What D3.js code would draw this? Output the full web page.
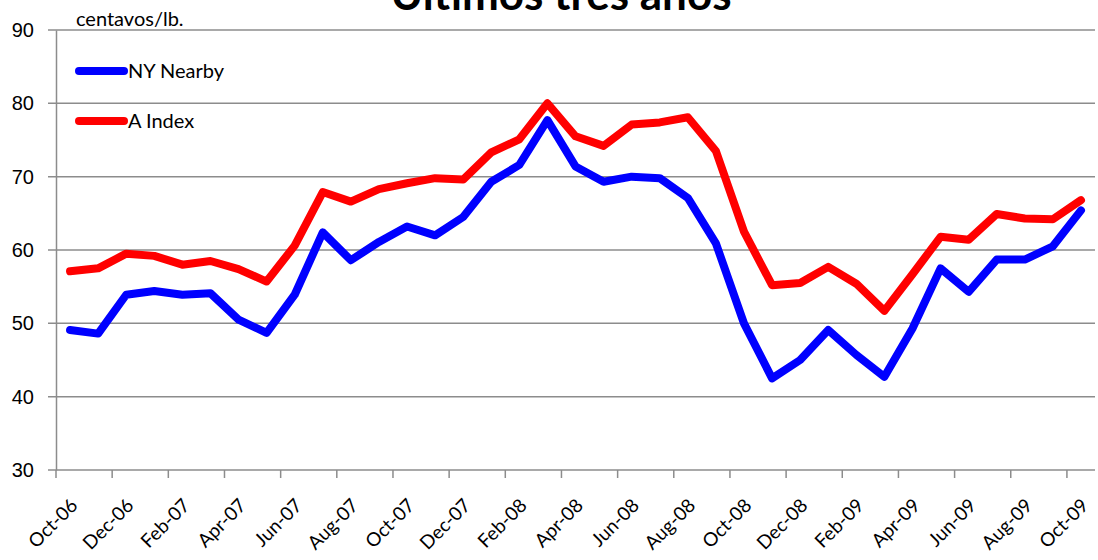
<!DOCTYPE html>
<html>
<head>
<meta charset="utf-8">
<script src="https://cdn.jsdelivr.net/npm/d3@7"></script>
<style>
  body { margin: 0; background: #fff; }
  svg { font-family: Lato, "Open Sans", sans-serif; }
  .grid line { stroke: #8c8c8c; stroke-width: 1.5; }
  .tick text { fill: #000; }
</style>
</head>
<body>
<svg width="1098" height="560"></svg>
<script>
const months = ["Oct-06","Nov-06","Dec-06","Jan-07","Feb-07","Mar-07","Apr-07","May-07","Jun-07","Jul-07","Aug-07","Sep-07",
  "Oct-07","Nov-07","Dec-07","Jan-08","Feb-08","Mar-08","Apr-08","May-08","Jun-08","Jul-08","Aug-08","Sep-08",
  "Oct-08","Nov-08","Dec-08","Jan-09","Feb-09","Mar-09","Apr-09","May-09","Jun-09","Jul-09","Aug-09","Sep-09","Oct-09"]

const nyNearby = [49.1, 48.6, 53.9, 54.4, 53.9, 54.1, 50.5, 48.7, 53.9, 62.4, 58.6, 61.1,
  63.2, 62.0, 64.5, 69.3, 71.6, 77.7, 71.4, 69.3, 70.0, 69.8, 67.1, 60.9,
  50.0, 42.5, 45.0, 49.1, 45.7, 42.7, 49.3, 57.5, 54.3, 58.7, 58.7, 60.5, 65.4]

const aIndex = [57.1, 57.5, 59.5, 59.2, 58.0, 58.5, 57.4, 55.7, 60.6, 67.9, 66.6, 68.3,
  69.1, 69.8, 69.6, 73.3, 75.1, 80.0, 75.5, 74.2, 77.1, 77.4, 78.1, 73.5,
  62.5, 55.2, 55.5, 57.7, 55.4, 51.7, 56.7, 61.8, 61.4, 64.9, 64.3, 64.2, 66.8]

const yTicks = [30, 40, 50, 60, 70, 80, 90]

const series = [
  { name: "NY Nearby", color: "#0000ff", values: nyNearby },
  { name: "A Index", color: "#ff0000", values: aIndex }
]

const svg = d3.select("svg")

const x = d3.scaleBand()
  .domain(months)
  .range([56, 1095])

const y = d3.scaleLinear()
  .domain([30, 90])
  .range([470, 30])

// horizontal gridlines
svg.append("g")
  .attr("class", "grid")
  .selectAll("line")
  .data(yTicks)
  .enter()
  .append("line")
  .attr("x1", 48)
  .attr("x2", 1095)
  .attr("y1", d => y(d))
  .attr("y2", d => y(d))

// y axis
const yAxis = svg.append("g")
  .attr("transform", "translate(56,0)")
  .call(d3.axisLeft(y).tickValues(yTicks).tickSize(0).tickPadding(22))
yAxis.select(".domain").attr("stroke", "#8c8c8c").attr("stroke-width", 1.5)
yAxis.selectAll("text").attr("font-size", 20)

// x axis: ticks every two months at band edges
const labelled = months.filter((m, i) => i % 2 === 0)
svg.append("g")
  .attr("class", "grid")
  .selectAll("line")
  .data(labelled)
  .enter()
  .append("line")
  .attr("x1", d => x(d))
  .attr("x2", d => x(d))
  .attr("y1", y(30))
  .attr("y2", y(30) + 8)

svg.append("g")
  .selectAll("text")
  .data(labelled)
  .enter()
  .append("text")
  .attr("transform", d => `translate(${x(d) + x.bandwidth() / 2 + 4}, ${y(30) + 32}) rotate(-45)`)
  .attr("text-anchor", "end")
  .attr("dy", "0.35em")
  .attr("font-size", 19)
  .text(d => d)

const line = d3.line()
  .x((d, i) => x(months[i]) + x.bandwidth() / 2)
  .y(d => y(d))

svg.append("g")
  .selectAll("path")
  .data(series)
  .enter()
  .append("path")
  .attr("d", d => line(d.values))
  .attr("fill", "none")
  .attr("stroke", d => d.color)
  .attr("stroke-width", 8)
  .attr("stroke-linejoin", "round")
  .attr("stroke-linecap", "round")

// legend
const legend = svg.append("g")
  .selectAll("g")
  .data(series)
  .enter()
  .append("g")
  .attr("transform", (d, i) => `translate(0, ${71 + i * 50})`)

legend.append("line")
  .attr("x1", 79)
  .attr("x2", 124)
  .attr("stroke", d => d.color)
  .attr("stroke-width", 8)
  .attr("stroke-linecap", "round")

legend.append("text")
  .attr("x", 128)
  .attr("dy", "0.35em")
  .attr("font-size", 20)
  .text(d => d.name)

svg.append("text")
  .attr("x", 76)
  .attr("y", 26)
  .attr("font-size", 20)
  .text("centavos/lb.")

svg.append("text")
  .attr("x", 561)
  .attr("y", 10)
  .attr("text-anchor", "middle")
  .attr("font-size", 44)
  .attr("font-weight", "bold")
  .text("Últimos tres años")
</script>
</body>
</html>
